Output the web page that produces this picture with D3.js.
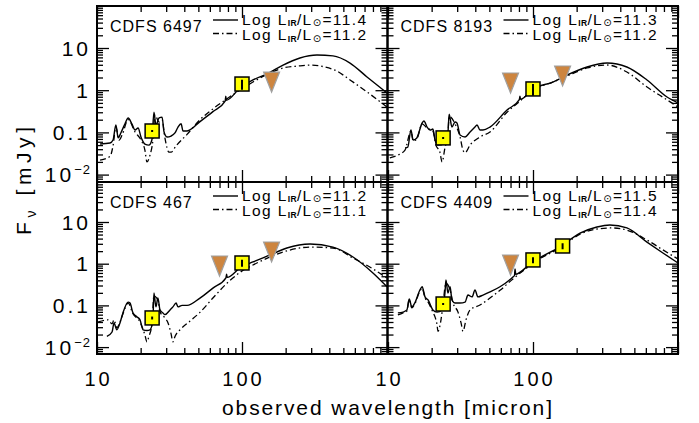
<!DOCTYPE html>
<html><head><meta charset="utf-8">
<script src="https://cdn.jsdelivr.net/npm/d3@7"></script>
<style>body{margin:0;background:#fff}svg{display:block}</style>
</head><body>
<script>
// ---------------- DATA ----------------
const panelNames = ["CDFS 6497", "CDFS 8193", "CDFS 467", "CDFS 4409"];
const lirSolid = ["11.4", "11.3", "11.2", "11.5"];
const lirDash  = ["11.2", "11.2", "11.1", "11.4"];
const xTickLabels = ["10", "100"];
const yTickValues = [0.01, 0.1, 1, 10];
const yTickLabels = ["10|−2", "0.1", "1", "10"];

// SED model curves: [wavelength (micron), flux (mJy)]
const sed6497Solid = [[10.5,0.053],[12.3,0.056],[12.9,0.066],[13.5,0.15],[14.0,0.074],[14.6,0.097],[15.6,0.16],[16.4,0.22],[17.4,0.16],[18.3,0.114],[19.2,0.127],[20.1,0.078],[21.4,0.053],[22.8,0.050],[23.9,0.066],[24.7,0.30],[25.5,0.15],[26.8,0.22],[28.1,0.23],[29.0,0.102],[30.4,0.078],[32.4,0.082],[34.5,0.097],[36.2,0.134],[38.0,0.16],[39.2,0.108],[41.8,0.108],[51.3,0.18],[63.0,0.31],[76.5,0.55],[77.3,0.72],[78.0,0.58],[96.9,1.13],[119,1.75],[149,2.42],[192,3.95],[251,5.8],[329,6.8],[424,6.5],[556,4.4],[728,2.06],[1000,0.86]];
const sed6497Dash = [[10.5,0.022],[12.3,0.027],[12.9,0.048],[13.5,0.134],[14.2,0.066],[14.9,0.087],[16.4,0.20],[18.3,0.102],[20.1,0.066],[21.4,0.038],[22.1,0.020],[23.2,0.029],[24.3,0.066],[25.1,0.26],[26.8,0.176],[28.1,0.20],[29.4,0.074],[31.4,0.034],[32.4,0.034],[35.1,0.048],[41.8,0.090],[51.3,0.20],[63.0,0.36],[76.3,0.58],[96.9,1.01],[119,1.56],[156,2.56],[192,3.36],[244,3.74],[303,3.95],[372,3.55],[450,2.85],[556,1.75],[728,0.91],[1000,0.40]];

const sed8193Solid = [[13.1,0.043],[13.7,0.045],[14.4,0.114],[14.9,0.066],[15.8,0.074],[17.2,0.167],[17.7,0.186],[18.6,0.134],[19.5,0.114],[20.4,0.12],[21.1,0.066],[22.1,0.050],[24.7,0.056],[25.9,0.097],[26.4,0.27],[27.6,0.134],[29.0,0.176],[29.9,0.167],[31.4,0.087],[34.0,0.078],[36.8,0.102],[39.8,0.134],[41.1,0.15],[43.1,0.114],[45.2,0.114],[50.5,0.134],[66.2,0.34],[80.5,0.60],[81.3,0.72],[82.0,0.61],[100,1.07],[137,1.56],[172,2.29],[236,3.55],[324,4.4],[444,3.55],[611,1.75],[840,0.69],[1000,0.50]];
const sed8193Dash = [[10.3,0.025],[11.7,0.029],[13.1,0.038],[14.4,0.108],[14.9,0.063],[15.8,0.07],[17.2,0.16],[18.6,0.127],[20.4,0.108],[21.4,0.05],[22.8,0.034],[23.6,0.02],[24.7,0.043],[25.9,0.093],[26.4,0.24],[29.0,0.16],[31.4,0.078],[32.9,0.038],[34.0,0.033],[36.8,0.050],[43.1,0.078],[50.5,0.102],[66.2,0.30],[81.3,0.55],[100,1.01],[137,1.56],[172,2.17],[236,3.36],[324,3.95],[444,2.7],[611,1.19],[840,0.59],[1000,0.40]];

const sed467Solid = [[11.7,0.018],[12.7,0.023],[13.1,0.038],[13.7,0.026],[14.4,0.038],[15.1,0.066],[16.4,0.12],[16.9,0.114],[17.7,0.066],[18.9,0.053],[19.8,0.045],[20.8,0.026],[22.1,0.025],[23.2,0.026],[24.3,0.045],[24.7,0.198],[25.5,0.092],[26.3,0.15],[27.2,0.078],[28.5,0.066],[29.4,0.06],[31.9,0.078],[33.4,0.092],[35.1,0.114],[36.2,0.092],[38.6,0.1],[41.8,0.1],[51.3,0.15],[63.0,0.26],[77.5,0.46],[78.3,0.56],[79.0,0.47],[96.9,0.79],[119,1.1],[156,1.62],[204,2.38],[295,2.97],[424,2.5],[583,1.45],[800,0.6],[1000,0.28]];
const sed467Dash = [[10.2,0.040],[11.9,0.045],[12.7,0.036],[13.1,0.045],[13.7,0.029],[14.4,0.04],[15.1,0.063],[16.4,0.114],[17.7,0.063],[19.8,0.04],[21.4,0.0195],[22.1,0.0133],[22.8,0.018],[23.9,0.034],[24.7,0.168],[26.3,0.135],[27.2,0.07],[29.4,0.05],[30.9,0.038],[32.4,0.021],[33.4,0.0133],[34.5,0.018],[37.4,0.026],[43.8,0.042],[51.3,0.068],[63.0,0.15],[78.8,0.34],[96.9,0.62],[119,0.93],[156,1.45],[214,2.13],[295,2.5],[424,2.38],[583,1.37],[800,0.75],[1000,0.45]];

const sed4409Solid = [[11.7,0.066],[12.7,0.069],[13.5,0.078],[14.0,0.142],[14.6,0.092],[15.3,0.114],[16.6,0.234],[17.2,0.28],[18.0,0.16],[18.9,0.135],[20.4,0.078],[21.8,0.069],[23.6,0.078],[24.7,0.198],[25.1,0.41],[25.9,0.198],[26.8,0.28],[27.6,0.135],[29.0,0.114],[31.4,0.114],[34.0,0.12],[35.6,0.177],[38.0,0.16],[39.8,0.234],[41.7,0.16],[45.2,0.177],[50.5,0.21],[59.2,0.28],[72.7,0.48],[74.5,0.52],[75.2,0.75],[76.0,0.56],[90.5,0.83],[111,1.37],[153,2.51],[211,5.4],[276,7.6],[339,8.5],[444,7.2],[611,3.3],[787,1.81],[1000,1.04]];
const sed4409Dash = [[11.7,0.059],[12.7,0.066],[13.5,0.073],[14.0,0.135],[14.6,0.087],[15.3,0.108],[16.6,0.22],[17.2,0.26],[18.0,0.15],[18.9,0.12],[20.4,0.069],[21.1,0.053],[21.8,0.034],[22.1,0.024],[23.2,0.045],[23.9,0.1],[25.1,0.34],[26.8,0.234],[28.1,0.114],[30.4,0.069],[31.9,0.038],[32.9,0.024],[34.5,0.045],[36.8,0.078],[43.1,0.102],[50.5,0.15],[59.2,0.23],[72.7,0.43],[90.5,0.79],[111,1.3],[153,2.38],[211,5.1],[276,6.8],[351,7.2],[444,6.4],[611,3.7],[787,2.14],[1000,1.30]];

// Detections: [wavelength, flux, error]; upper limits: [wavelength, flux]
const det6497 = [[24,0.108,0.006],[100,1.40,0.37]];
const lim6497 = [[160,1.56]];
const det8193 = [[24,0.074,0.003],[100,1.07,0.33]];
const lim8193 = [[70,1.48],[160,2.17]];
const det467 = [[24,0.050,0.004],[100,1.04,0.2]];
const lim467 = [[70,0.88],[160,1.91]];
const det4409 = [[24,0.108,0.005],[100,1.23,0.2],[160,2.66,0.45]];
const lim4409 = [[70,0.93]];

const solids = [sed6497Solid, sed8193Solid, sed467Solid, sed4409Solid];
const dashes = [sed6497Dash, sed8193Dash, sed467Dash, sed4409Dash];
const dets = [det6497, det8193, det467, det4409];
const lims = [lim6497, lim8193, lim467, lim4409];

// ---------------- LAYOUT ----------------
const FONT = "'Liberation Sans', Arial, Helvetica, sans-serif";
const layout = [
  {box:[97,387.5,6,182],  xr:[97,387],  yr:[174.6,48]},
  {box:[387.5,678,6,182], xr:[388,678], yr:[174.6,48]},
  {box:[97,387.5,182,354],  xr:[97,387],  yr:[347.1,222]},
  {box:[387.5,678,182,354], xr:[388,678], yr:[347.1,222]}
];
const DASH = "6,3,1.5,3";

const svg = d3.select("body").append("svg").attr("width",699).attr("height",423)
  .style("font-family", FONT);
const defs = svg.append("defs");

layout.forEach((L, i) => {
  const [bx0,bx1,by0,by1] = L.box;
  const xs = d3.scaleLog().domain([10,1000]).range(L.xr);
  const ys = d3.scaleLog().domain([0.01,10]).range(L.yr);
  const g = svg.append("g");
  defs.append("clipPath").attr("id","c"+i).append("rect")
    .attr("x",bx0).attr("y",by0).attr("width",bx1-bx0).attr("height",by1-by0);
  const pg = g.append("g").attr("clip-path",`url(#c${i})`);
  const line = d3.line().x(d=>xs(d[0])).y(d=>ys(d[1])).curve(d3.curveMonotoneX);

  pg.append("path").attr("d",line(dashes[i])).attr("fill","none")
    .attr("stroke","#000").attr("stroke-width",1.3).attr("stroke-dasharray",DASH);
  pg.append("path").attr("d",line(solids[i])).attr("fill","none")
    .attr("stroke","#000").attr("stroke-width",1.4).attr("stroke-linejoin","round");

  // upper limits (triangles)
  lims[i].forEach(d => {
    const cx = xs(d[0]), cy = ys(d[1]);
    pg.append("path").attr("d",`M${cx-8},${cy-10}L${cx+8},${cy-10}L${cx},${cy+10}Z`)
      .attr("fill","#cd853f").attr("stroke","#a0a0a0").attr("stroke-width",1.2);
  });
  // detections (squares)
  dets[i].forEach(d => {
    const cx = xs(d[0]), cy = ys(d[1]);
    pg.append("rect").attr("x",cx-7).attr("y",cy-7).attr("width",14).attr("height",14)
      .attr("fill","#ffff00").attr("stroke","#000").attr("stroke-width",1.5);
    const ya = ys(d[1]+d[2]), yb = ys(Math.max(d[1]-d[2], 1e-4));
    pg.append("line").attr("x1",cx).attr("x2",cx)
      .attr("y1",Math.min(ya,cy-1)).attr("y2",Math.max(yb,cy+1))
      .attr("stroke","#000").attr("stroke-width",2);
  });

  // ticks via axes
  const xMaj = [10,100,1000];
  const xMin = [];
  [10,100].forEach(d => { for (let k=2;k<10;k++) xMin.push(d*k); });
  const yMaj = [], yMin = [];
  [0.001,0.01,0.1,1,10,100].forEach(d => {
    if (ys(d) >= by0-0.5 && ys(d) <= by1+0.5) yMaj.push(d);
    for (let k=2;k<10;k++){ const v=d*k; const p=ys(v); if (p>by0+0.5 && p<by1-0.5) yMin.push(v); }
  });
  const tickStyle = sel => { sel.select(".domain").remove(); sel.selectAll("line").attr("stroke","#000").attr("stroke-width",1.3); sel.selectAll("text").remove(); };
  g.append("g").attr("transform",`translate(0,${by1})`).call(d3.axisBottom(xs).tickValues(xMaj).tickSize(-12).tickFormat("")).call(tickStyle);
  g.append("g").attr("transform",`translate(0,${by1})`).call(d3.axisBottom(xs).tickValues(xMin).tickSize(-6).tickFormat("")).call(tickStyle);
  g.append("g").attr("transform",`translate(0,${by0})`).call(d3.axisTop(xs).tickValues(xMaj).tickSize(-12).tickFormat("")).call(tickStyle);
  g.append("g").attr("transform",`translate(0,${by0})`).call(d3.axisTop(xs).tickValues(xMin).tickSize(-6).tickFormat("")).call(tickStyle);
  g.append("g").attr("transform",`translate(${bx0},0)`).call(d3.axisLeft(ys).tickValues(yMaj).tickSize(-12).tickFormat("")).call(tickStyle);
  g.append("g").attr("transform",`translate(${bx0},0)`).call(d3.axisLeft(ys).tickValues(yMin).tickSize(-6).tickFormat("")).call(tickStyle);
  g.append("g").attr("transform",`translate(${bx1},0)`).call(d3.axisRight(ys).tickValues(yMaj).tickSize(-12).tickFormat("")).call(tickStyle);
  g.append("g").attr("transform",`translate(${bx1},0)`).call(d3.axisRight(ys).tickValues(yMin).tickSize(-6).tickFormat("")).call(tickStyle);

  g.append("rect").attr("x",bx0).attr("y",by0).attr("width",bx1-bx0).attr("height",by1-by0)
    .attr("fill","none").attr("stroke","#000").attr("stroke-width",2);

  // panel label
  g.append("text").attr("x",bx0+13).attr("y",by0+26).attr("font-size",16)
    .attr("letter-spacing",1).text(panelNames[i]);
  // legend
  const lg = [[lirSolid[i], null, 14, 18.5], [lirDash[i], DASH, 27.5, 34]];
  lg.forEach(([v, dash, ly, ty]) => {
    g.append("line").attr("x1",bx0+116).attr("x2",bx0+141).attr("y1",by0+ly).attr("y2",by0+ly)
      .attr("stroke","#000").attr("stroke-width",1.4).attr("stroke-dasharray",dash);
    const t = g.append("text").attr("x",bx0+145).attr("y",by0+ty).attr("font-size",15.5).attr("letter-spacing",1.4);
    t.append("tspan").text("Log L");
    t.append("tspan").attr("font-size",8.5).attr("font-weight","bold").attr("dy",1.5).attr("letter-spacing",0.3).text("IR");
    t.append("tspan").attr("dy",-1.5).text("/L");
    t.append("tspan").attr("font-size",10).attr("dy",1.5).attr("font-family","'DejaVu Sans'").text("⊙");
    t.append("tspan").attr("dy",-1.5).text("="+v);
  });

  // y tick labels on left panels
  if (i % 2 === 0) {
    yTickValues.forEach((v, k) => {
      const parts = yTickLabels[k].split("|");
      const t = g.append("text").attr("x",88+3).attr("y",ys(v)).attr("dy","0.36em")
        .attr("text-anchor","end").attr("font-size",21).attr("letter-spacing",3);
      t.append("tspan").text(parts[0]);
      if (parts[1]) t.append("tspan").attr("font-size",13).attr("dy",-8).attr("letter-spacing",1).text(parts[1]);
    });
  }
  // x tick labels on bottom panels
  if (i >= 2) {
    [10,100].forEach((v,k) => {
      g.append("text").attr("x",xs(v)+1.5).attr("y",379).attr("dy","0.36em")
        .attr("text-anchor","middle").attr("font-size",20).attr("letter-spacing",3)
        .text(xTickLabels[k]);
    });
  }
});

// axis titles
svg.append("text").attr("x",387).attr("y",407).attr("dy","0.36em").attr("text-anchor","middle")
  .attr("font-size",21).attr("textLength",330).attr("lengthAdjust","spacing")
  .text("observed wavelength [micron]");
const yt = svg.append("text").attr("transform","translate(31,181) rotate(-90)")
  .attr("text-anchor","middle").attr("font-size",21).attr("textLength",108).attr("lengthAdjust","spacing");
yt.append("tspan").text("F");
yt.append("tspan").attr("font-size",14).attr("dy",5).text("ν");
yt.append("tspan").attr("dy",-5).text(" [mJy]");
</script>
</body></html>
